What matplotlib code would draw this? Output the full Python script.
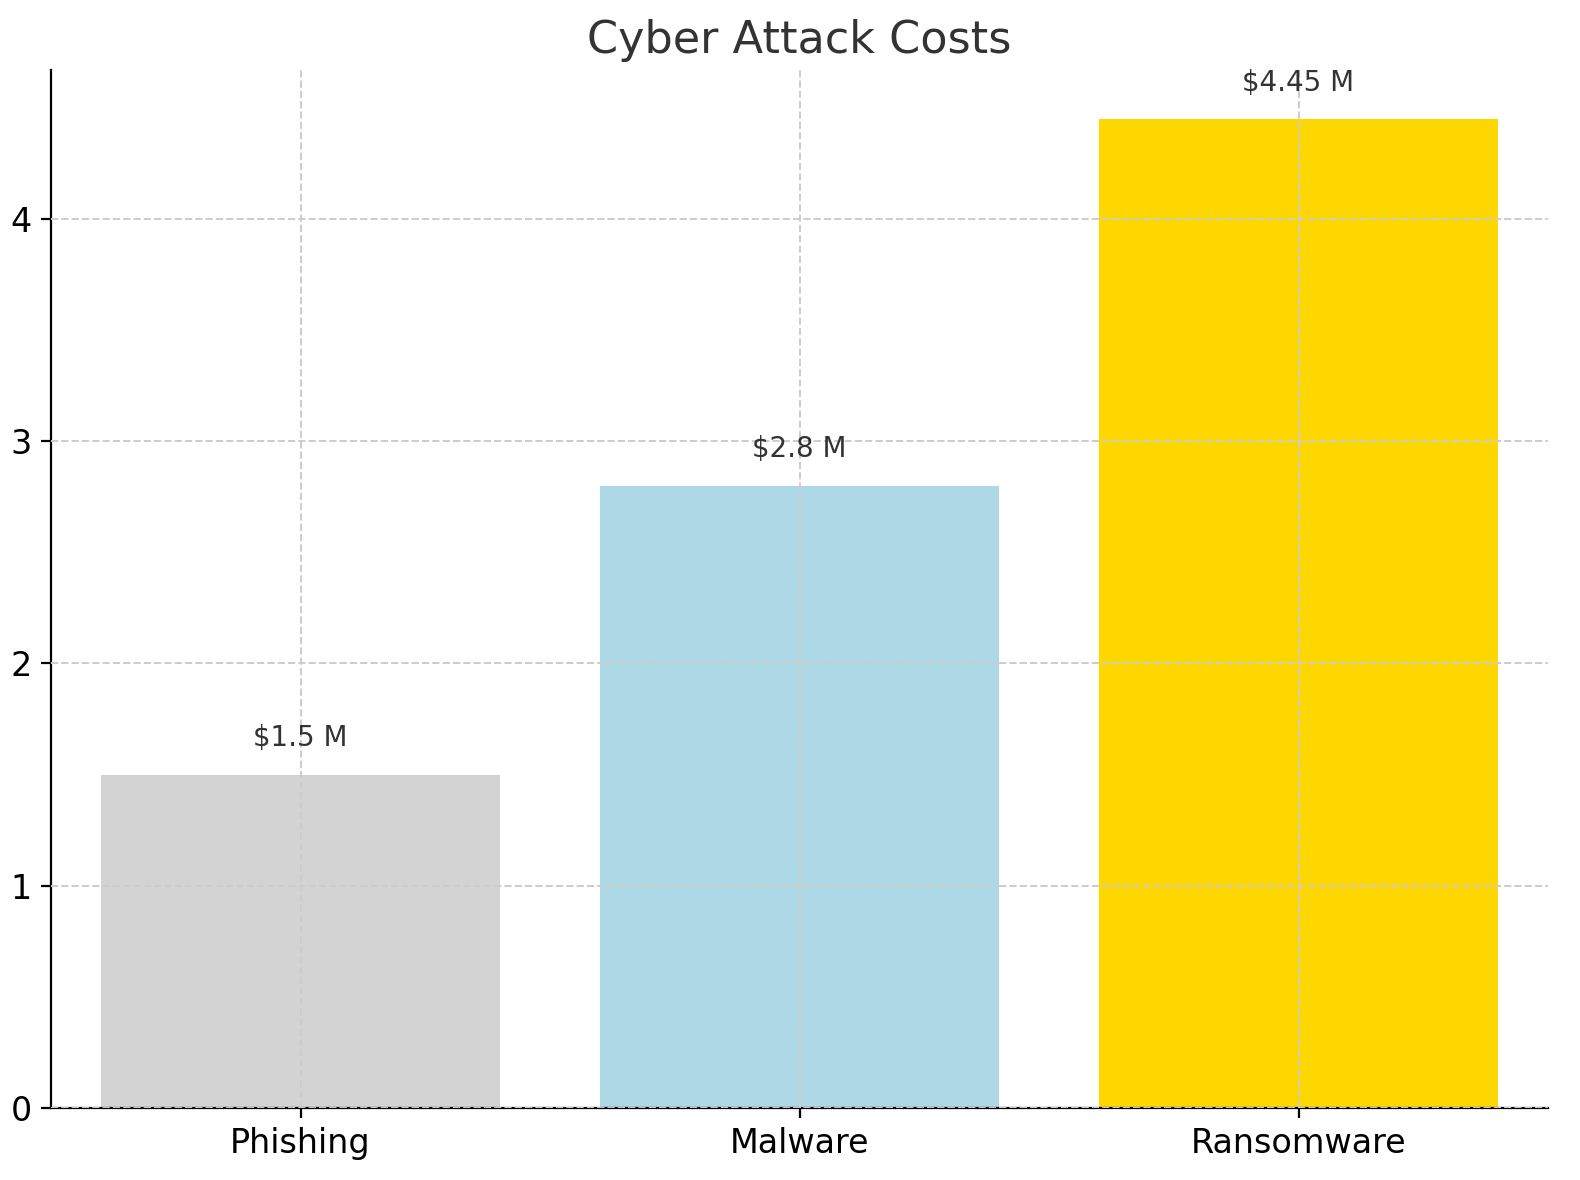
import matplotlib
matplotlib.use("Agg")
import matplotlib.pyplot as plt

categories = ["Phishing", "Malware", "Ransomware"]
values = [1.5, 2.8, 4.45]
labels = ["$1.5 M", "$2.8 M", "$4.45 M"]
colors = ["lightgray", "lightblue", "gold"]

fig = plt.figure(figsize=(7.9, 5.9), dpi=200)
ax = fig.add_axes([51/1580, 72/1180, 1497/1580, 1038/1180])
ax.bar(categories, values, color=colors, width=0.8, zorder=1)
for i, (v, l) in enumerate(zip(values, labels)):
    ax.text(i, v + 0.1, l, ha="center", va="bottom", fontsize=10, color="#333333")
ax.set_ylim(0, 4.67)
ax.set_xlim(-0.5, 2.5)
ax.grid(True, linestyle="--", color="#cccccc", linewidth=0.7, zorder=2)
ax.set_axisbelow(False)
for s in ["top", "right"]:
    ax.spines[s].set_visible(False)
ax.tick_params(labelsize=12)
ax.set_title("Cyber Attack Costs", fontsize=16, color="#333333")
fig.savefig("out.png", dpi=200)
